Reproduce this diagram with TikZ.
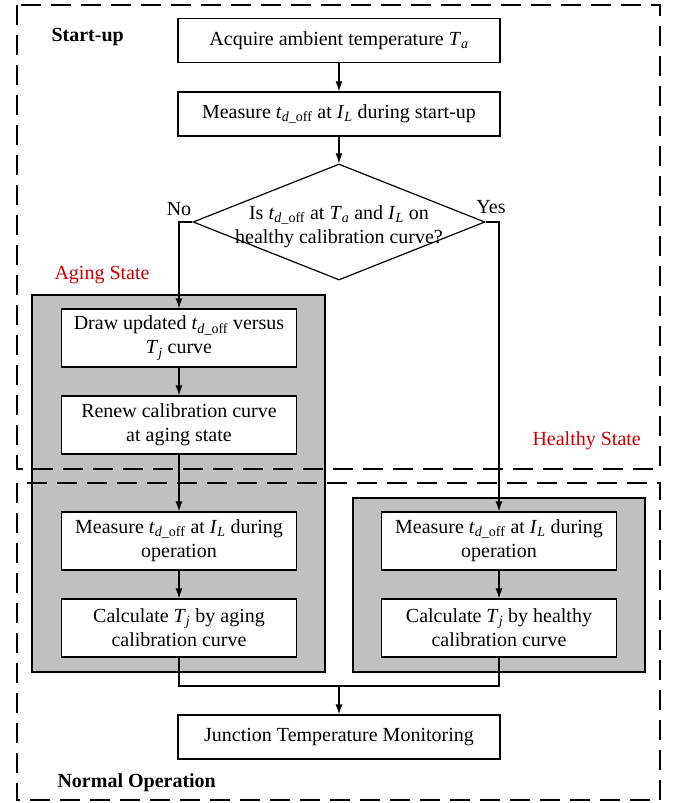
\documentclass[tikz,border=0pt]{standalone}
\usepackage{fontspec}
\setmainfont{Liberation Serif}
\usepackage{tikz}
\usetikzlibrary{shapes,shapes.geometric,arrows,arrows.meta,positioning,calc}

\definecolor{panelgray}{RGB}{192,192,192}
\definecolor{statered}{RGB}{200,0,0}

\newcommand{\tdoff}{\textit{t}\textsubscript{\textit{d}\_off}}
\newcommand{\IL}{\textit{I}\textsubscript{\textit{L}}}
\newcommand{\Tamb}{\textit{T}\textsubscript{\textit{a}}}
\newcommand{\Tjun}{\textit{T}\textsubscript{\textit{j}}}

\begin{document}
\begin{tikzpicture}[x=1pt,y=-1pt,
    procbox/.style={draw, fill=white, line width=1.2pt, minimum width=322pt,
        minimum height=44pt, align=center, inner sep=2pt,
        font=\fontsize{20}{24}\selectfont},
    subbox/.style={procbox, minimum width=235pt, minimum height=58pt},
    panel/.style={draw, fill=panelgray, line width=1.4pt},
    zone/.style={draw, line width=2.6pt, dash pattern=on 20pt off 10pt},
    flow/.style={line width=1.2pt, -{Latex[length=10pt,width=7pt]}},
    link/.style={line width=1.2pt},
    tag/.style={font=\fontsize{20}{24}\selectfont},
    statetag/.style={tag, text=statered, anchor=base west},
    zonetag/.style={tag, font=\fontsize{20}{24}\selectfont\bfseries, anchor=base west}]
    \useasboundingbox (0,0) rectangle (672,803);

    % Gray panels (Aging / Healthy)
    \draw[panel] (32,295) rectangle (325,672);
    \draw[panel] (353,498) rectangle (645,672);

    % Dashed zones
    \draw[zone] (17,5) rectangle (660,469);
    \draw[zone] (17,483) rectangle (660,800);
    \node (startlbl) at (48,41) [zonetag] {Start-up};
    \node (normallbl) at (54,787) [zonetag] {Normal Operation};
    \node (aginglbl) at (51,279) [statetag] {Aging State};
    \node (healthylbl) at (529,445) [statetag] {Healthy State};

    % Start-up steps
    \node (acquire) at (339,40.5) [procbox] {Acquire ambient temperature \Tamb};
    \node (measstart) at (339,114) [procbox] {Measure \tdoff\ at \IL\ during start-up};
    \node (check) at (339,222) [diamond, draw, line width=1.2pt, minimum width=292pt,
        minimum height=116pt, inner sep=0pt] {};
    \node (checktext) at (339,227) [tag, align=center]
        {Is \tdoff\ at \Tamb\ and \IL\ on\\healthy calibration curve?};
    \node (nolbl) at (179,215) [tag, anchor=base] {No};
    \node (yeslbl) at (491,213) [tag, anchor=base] {Yes};

    % Aging branch
    \node (drawcurve) at (179,338) [subbox] {Draw updated \tdoff\ versus\\\Tjun\ curve};
    \node (renew) at (179,425) [subbox] {Renew calibration curve\\at aging state};
    \node (agemeas) at (179,541) [subbox] {Measure \tdoff\ at \IL\ during\\operation};
    \node (agecalc) at (179,628) [subbox] {Calculate \Tjun\ by aging\\calibration curve};

    % Healthy branch
    \node (hlthmeas) at (499,541) [subbox] {Measure \tdoff\ at \IL\ during\\operation};
    \node (hlthcalc) at (499,628) [subbox] {Calculate \Tjun\ by healthy\\calibration curve};

    % Monitoring
    \node (monitor) at (339,737) [procbox] {Junction Temperature Monitoring};
    \coordinate (merge) at (339,686);

    % Connectors
    \draw[flow] (acquire) -- (measstart);
    \draw[flow] (measstart) -- (check.north);
    \draw[flow] (check.west) -| (drawcurve.north);
    \draw[flow] (check.east) -| (hlthmeas.north);
    \draw[flow] (drawcurve) -- (renew);
    \draw[flow] (renew) -- (agemeas);
    \draw[flow] (agemeas) -- (agecalc);
    \draw[flow] (hlthmeas) -- (hlthcalc);
    \draw[link] (agecalc.south) |- (merge) -| (hlthcalc.south);
    \draw[flow] (merge) -- (monitor.north);
\end{tikzpicture}
\end{document}
